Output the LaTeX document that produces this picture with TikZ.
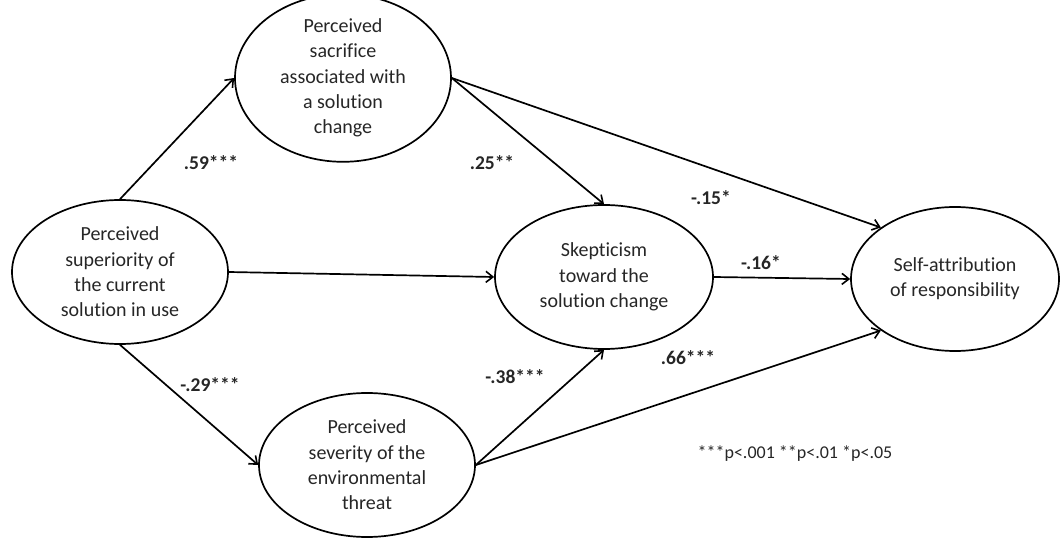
\documentclass[tikz,border=0pt]{standalone}
\usepackage{fontspec}
\setmainfont[Ligatures=NoCommon]{Carlito}
\usetikzlibrary{shapes.geometric,arrows.meta}
\begin{document}
\begin{tikzpicture}[x=1pt,y=-1pt,
  var/.style={draw,line width=1.7pt,ellipse,inner sep=0pt,align=center,
    minimum width=216pt,minimum height=144pt,
    font=\fontsize{20}{25.3}\selectfont,text=black!85},
  path/.style={line width=1.7pt,-{Straight Barb[length=7pt,width=11pt,line width=1.6pt]}},
  coef/.style={font=\bfseries\fontsize{19.5}{22}\selectfont,inner sep=0pt,text=black!85},
  note/.style={font=\fontsize{18}{22}\selectfont,inner sep=0pt,text=black!85}]
\useasboundingbox (0,0) rectangle (1061,540);
\node[var] (sup) at (120,272) {Perceived\\superiority of\\the current\\solution in use};
\node[var] (sac) at (343,78) {Perceived\\sacrifice\\associated with\\a solution\\change};
\node[var] (sev) at (367,465) {Perceived\\severity of the\\environmental\\threat};
\node[var,minimum width=218pt] (ske) at (604,277) {Skepticism\\toward the\\solution change};
\node[var,minimum width=208pt] (self) at (955,279) {Self-attribution\\of responsibility};

\draw[path] (sup.north) -- (sac.west);
\draw[path] (sup.south) -- (sev.west);
\draw[path] (sup.east) -- (ske.west);
\draw[path] (sac.east) -- (ske.north);
\draw[path] (sac.east) -- (self.north west);
\draw[path] (ske.east) -- (self.west);
\draw[path] (sev.east) -- (ske.south);
\draw[path] (sev.east) -- (self.south west);

\node[coef] (c1) at (211,163) {.59***};
\node[coef] (c2) at (492,163) {.25**};
\node[coef] (c3) at (711,198) {-.15*};
\node[coef] (c4) at (761,263) {-.16*};
\node[coef] (c5) at (210,385) {-.29***};
\node[coef] (c6) at (515,377) {-.38***};
\node[coef] (c7) at (688,358) {.66***};
\node[note] (leg) at (795,454) {***p<.001 **p<.01 *p<.05};
\end{tikzpicture}
\end{document}
